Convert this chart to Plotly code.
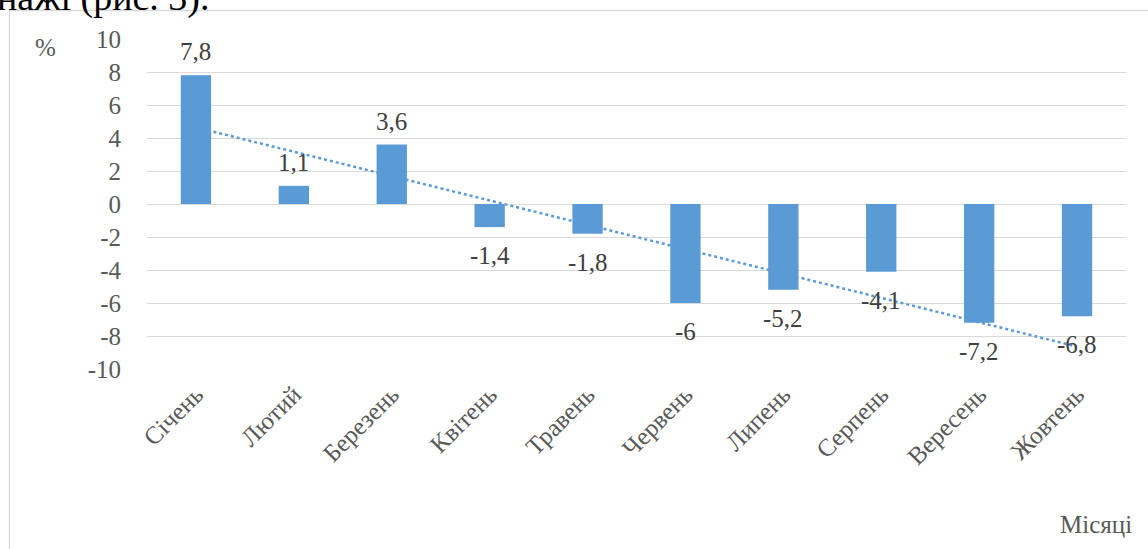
import numpy as np
import plotly.graph_objects as go

months = ["Січень", "Лютий", "Березень", "Квітень", "Травень",
          "Червень", "Липень", "Серпень", "Вересень", "Жовтень"]
values = [7.8, 1.1, 3.6, -1.4, -1.8, -6.0, -5.2, -4.1, -7.2, -6.8]
y_ticks = [10, 8, 6, 4, 2, 0, -2, -4, -6, -8, -10]

def fmt(v):
    return ("%g" % v).replace(".", ",")

# linear trendline (Excel-style) over category index
idx = np.arange(1, len(values) + 1)
slope, intercept = np.polyfit(idx, values, 1)
trend = slope * idx + intercept

BLUE = "#5b9bd5"
GRAY = "#595959"
FONT = "Liberation Serif"

fig = go.Figure()
fig.add_trace(go.Scatter(
    x=months, y=trend, mode="lines",
    line=dict(color=BLUE, width=2.5, dash="dot"),
    hoverinfo="skip", showlegend=False))
fig.add_trace(go.Bar(
    x=months, y=values, marker=dict(color=BLUE, line=dict(width=0)),
    width=0.31, showlegend=False))

for m, v in zip(months, values):
    fig.add_annotation(
        x=m, y=v, text=fmt(v), showarrow=False,
        yanchor="bottom" if v >= 0 else "top",
        yshift=8 if v >= 0 else -13,
        font=dict(family=FONT, size=25, color="#404040"))

fig.update_layout(
    width=1148, height=549,
    margin=dict(l=147, r=22, t=39, b=180),
    paper_bgcolor="white", plot_bgcolor="white",
    font=dict(family=FONT, color=GRAY),
    xaxis=dict(
        tickangle=-45, tickfont=dict(family=FONT, size=25, color=GRAY),
        showgrid=False, showline=False, zeroline=False, ticks="",
        ticklabelstandoff=5),
    yaxis=dict(
        range=[-10, 10], tickmode="array", tickvals=y_ticks,
        ticktext=[str(t) for t in y_ticks],
        tickfont=dict(family=FONT, size=25, color=GRAY),
        showgrid=True, gridcolor="#d9d9d9", gridwidth=1.3,
        zeroline=True, zerolinecolor="#d9d9d9", zerolinewidth=1.3,
        showline=False, ticks="", ticklabelstandoff=25),
)

fig.add_annotation(xref="paper", yref="paper", x=(45 - 147) / 979,
                   y=1 + (39 - 47) / 330, text="%", showarrow=False,
                   xanchor="center", yanchor="middle",
                   font=dict(family=FONT, size=25, color=GRAY))
fig.add_annotation(xref="paper", yref="paper", x=(1134 - 147) / 979,
                   y=(369 - 524) / 330, text="Місяці", showarrow=False,
                   xanchor="right", yanchor="middle",
                   font=dict(family=FONT, size=25, color=GRAY))
fig.add_annotation(xref="paper", yref="paper", x=(-5 - 147) / 979,
                   y=1 + (39 - 21) / 330, text="нажі (рис. 3).", showarrow=False,
                   xanchor="left", yanchor="bottom",
                   font=dict(family=FONT, size=38, color="black"))

fig.add_shape(type="rect", xref="paper", yref="paper",
              x0=(9.5 - 147) / 979, x1=(1160 - 147) / 979,
              y0=(369 - 560) / 330, y1=1 + (39 - 10.5) / 330,
              line=dict(color="#d9d9d9", width=1.3), fillcolor="rgba(0,0,0,0)",
              layer="below")

fig.write_html("out.html")
